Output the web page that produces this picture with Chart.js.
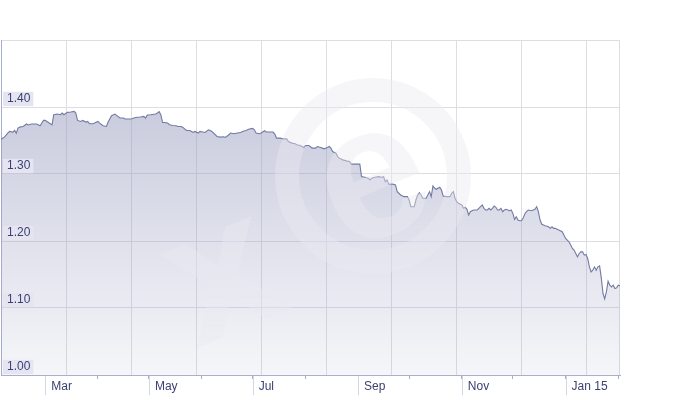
<!DOCTYPE html>
<html>
<head>
<meta charset="utf-8">
<script src="https://cdn.jsdelivr.net/npm/chart.js@4.4.1/dist/chart.umd.min.js"></script>
<style>
  html, body { margin: 0; padding: 0; background: #fff; }
  #wrap { width: 680px; height: 400px; }
</style>
</head>
<body>
<div id="wrap"><canvas id="chart"></canvas></div>
<script>
// EUR/USD, daily close
const dates = [
  '2014-02-03','2014-02-05','2014-02-07','2014-02-08','2014-02-10','2014-02-11','2014-02-12','2014-02-13','2014-02-14','2014-02-16',
  '2014-02-18','2014-02-19','2014-02-21','2014-02-24','2014-02-26','2014-02-27','2014-02-28','2014-03-01','2014-03-02','2014-03-04',
  '2014-03-05','2014-03-06','2014-03-08','2014-03-10','2014-03-11','2014-03-12','2014-03-14','2014-03-16','2014-03-18','2014-03-19',
  '2014-03-20','2014-03-22','2014-03-23','2014-03-25','2014-03-26','2014-03-27','2014-03-29','2014-03-30','2014-04-01','2014-04-02',
  '2014-04-04','2014-04-06','2014-04-07','2014-04-09','2014-04-11','2014-04-12','2014-04-14','2014-04-16','2014-04-17','2014-04-20',
  '2014-04-21','2014-04-23','2014-04-26','2014-04-28','2014-04-29','2014-04-30','2014-05-02','2014-05-05','2014-05-06','2014-05-07',
  '2014-05-08','2014-05-09','2014-05-10','2014-05-12','2014-05-13','2014-05-15','2014-05-17','2014-05-18','2014-05-20','2014-05-21',
  '2014-05-23','2014-05-25','2014-05-26','2014-05-27','2014-05-28','2014-05-30','2014-05-31','2014-06-01','2014-06-03','2014-06-05',
  '2014-06-06','2014-06-07','2014-06-09','2014-06-10','2014-06-12','2014-06-14','2014-06-15','2014-06-17','2014-06-18','2014-06-20',
  '2014-06-22','2014-06-24','2014-06-25','2014-06-27','2014-06-29','2014-07-01','2014-07-02','2014-07-03','2014-07-05','2014-07-06',
  '2014-07-08','2014-07-09','2014-07-11','2014-07-13','2014-07-14','2014-07-15','2014-07-17','2014-07-19','2014-07-21','2014-07-22',
  '2014-07-24','2014-07-26','2014-07-27','2014-07-29','2014-07-30','2014-07-31','2014-08-01','2014-08-03','2014-08-04','2014-08-05',
  '2014-08-07','2014-08-08','2014-08-10','2014-08-11','2014-08-12','2014-08-14','2014-08-15','2014-08-16','2014-08-17','2014-08-19',
  '2014-08-20','2014-08-21','2014-08-23','2014-08-25','2014-08-27','2014-08-28','2014-08-30','2014-09-01','2014-09-02','2014-09-03',
  '2014-09-05','2014-09-07','2014-09-08','2014-09-09','2014-09-11','2014-09-13','2014-09-15','2014-09-16','2014-09-17','2014-09-18',
  '2014-09-19','2014-09-21','2014-09-23','2014-09-24','2014-09-26','2014-09-28','2014-09-30','2014-10-01','2014-10-02','2014-10-04',
  '2014-10-05','2014-10-06','2014-10-07','2014-10-08','2014-10-09','2014-10-11','2014-10-12','2014-10-13','2014-10-14','2014-10-15',
  '2014-10-16','2014-10-17','2014-10-19','2014-10-20','2014-10-21','2014-10-23','2014-10-25','2014-10-26','2014-10-27','2014-10-28',
  '2014-10-29','2014-10-30','2014-11-01','2014-11-02','2014-11-03','2014-11-04','2014-11-05','2014-11-06','2014-11-07','2014-11-08',
  '2014-11-10','2014-11-11','2014-11-12','2014-11-13','2014-11-14','2014-11-15','2014-11-16','2014-11-17','2014-11-18','2014-11-19',
  '2014-11-20','2014-11-21','2014-11-22','2014-11-23','2014-11-24','2014-11-25','2014-11-26','2014-11-27','2014-11-28','2014-11-29',
  '2014-11-30','2014-12-01','2014-12-02','2014-12-03','2014-12-04','2014-12-05','2014-12-06','2014-12-07','2014-12-08','2014-12-09',
  '2014-12-10','2014-12-12','2014-12-13','2014-12-14','2014-12-15','2014-12-16','2014-12-17','2014-12-18','2014-12-20','2014-12-22',
  '2014-12-23','2014-12-24','2014-12-25','2014-12-26','2014-12-27','2014-12-28','2014-12-30','2014-12-31','2015-01-01','2015-01-02',
  '2015-01-03','2015-01-04','2015-01-05','2015-01-06','2015-01-07','2015-01-08','2015-01-09','2015-01-10','2015-01-11','2015-01-12',
  '2015-01-13','2015-01-14','2015-01-15','2015-01-16','2015-01-17','2015-01-18','2015-01-19','2015-01-20','2015-01-21','2015-01-22',
  '2015-01-23','2015-01-24','2015-01-25','2015-01-26','2015-01-27','2015-01-28','2015-01-29','2015-01-30','2015-01-31','2015-02-01',
  '2015-02-02'
];
const rates = [
  1.352,1.355,1.361,1.3635,1.3626,1.365,1.361,1.3686,1.370,1.371,
  1.3746,1.3731,1.3746,1.3746,1.372,1.376,1.380,1.380,1.3784,1.375,
  1.3735,1.3885,1.3895,1.3885,1.391,1.3885,1.392,1.3925,1.3934,1.391,
  1.380,1.3784,1.380,1.3775,1.3784,1.375,1.375,1.376,1.3784,1.376,
  1.372,1.371,1.3775,1.387,1.3895,1.3874,1.3835,1.3835,1.382,1.382,
  1.3825,1.3844,1.385,1.3859,1.3835,1.388,1.3885,1.3895,1.391,1.393,
  1.3885,1.3769,1.3769,1.376,1.3735,1.3725,1.372,1.371,1.371,1.3695,
  1.365,1.365,1.3635,1.362,1.3635,1.3611,1.3635,1.363,1.362,1.366,
  1.365,1.3635,1.3586,1.356,1.3551,1.3555,1.3545,1.3586,1.3611,1.360,
  1.3611,1.362,1.3635,1.365,1.3671,1.368,1.366,1.3611,1.360,1.3611,
  1.3645,1.3626,1.3626,1.3626,1.3596,1.3536,1.3536,1.3525,1.3525,1.3485,
  1.3461,1.3451,1.3436,1.3425,1.341,1.3395,1.3425,1.3425,1.3406,1.3386,
  1.3386,1.341,1.3395,1.3386,1.3376,1.3395,1.341,1.3386,1.3335,1.3311,
  1.326,1.3237,1.3211,1.3196,1.3186,1.3147,1.3147,1.3147,1.3147,1.2961,
  1.2952,1.2937,1.2912,1.2937,1.2952,1.2961,1.2952,1.2961,1.2886,1.2912,
  1.2847,1.2852,1.2837,1.2737,1.2687,1.2662,1.2662,1.2612,1.2512,1.2512,
  1.2612,1.2687,1.2722,1.2687,1.2638,1.2638,1.2687,1.2737,1.2662,1.2822,
  1.2787,1.2772,1.2802,1.276,1.2672,1.2662,1.2662,1.2713,1.2737,1.2638,
  1.2587,1.2563,1.2537,1.2488,1.2503,1.2473,1.2388,1.2437,1.2452,1.2463,
  1.2463,1.2488,1.2512,1.2537,1.2488,1.2463,1.2463,1.2488,1.2463,1.2488,
  1.2522,1.2503,1.2463,1.2463,1.2488,1.2437,1.2463,1.2473,1.2463,1.2452,
  1.2463,1.2413,1.2323,1.2362,1.2313,1.2302,1.2302,1.2338,1.2403,1.2437,
  1.2463,1.2452,1.2463,1.2473,1.2512,1.2437,1.2313,1.2249,1.2228,1.2213,
  1.2189,1.2213,1.2189,1.2189,1.2174,1.2163,1.2138,1.2088,1.2039,1.2013,
  1.1988,1.1939,1.1889,1.1864,1.1814,1.1763,1.1814,1.1838,1.1838,1.1789,
  1.1799,1.174,1.1614,1.1539,1.1564,1.1614,1.1564,1.1614,1.1629,1.145,
  1.1216,1.1135,1.124,1.140,1.134,1.1315,1.134,1.129,1.130,1.134,
  1.133
];
const yTicks = [1.00, 1.10, 1.20, 1.30, 1.40, 1.50];
const monthNames = ['Jan','Feb','Mar','Apr','May','Jun','Jul','Aug','Sep','Oct','Nov','Dec'];

const toDay = s => Date.parse(s + 'T00:00:00Z') / 864e5;
const points = dates.map((d, i) => ({ x: toDay(d), y: rates[i] }));
const xMin = points[0].x, xMax = points[points.length - 1].x;

// one tick at the start of every month in range
const monthTicks = [];
for (let y = 2014, m = 1; ; m++) {
  if (m > 11) { m = 0; y++; }
  const v = Date.UTC(y, m, 1) / 864e5;
  if (v > xMax) break;
  if (v >= xMin) monthTicks.push(v);
}
const monthLabel = v => {
  const d = new Date(v * 864e5);
  const m = d.getUTCMonth();
  if (m % 2 === 1) return '';
  return m === 0 ? 'Jan ' + String(d.getUTCFullYear()).slice(2) : monthNames[m];
};

const textColor = '#3b3f72';
const axisColor = '#a9add0';
const gridColor = '#dedee2';
const font = { family: "'Liberation Sans', Arial, sans-serif", size: 12 };

const gridPlugin = {
  id: 'colgrid',
  beforeDatasetsDraw(chart) {
    const { ctx, chartArea: a } = chart;
    ctx.save();
    ctx.strokeStyle = gridColor;
    ctx.lineWidth = 1;
    ctx.beginPath();
    for (let x = a.left + 65; x < a.right - 5; x += 65) {
      ctx.moveTo(Math.round(x) + 0.5, a.top);
      ctx.lineTo(Math.round(x) + 0.5, a.bottom);
    }
    ctx.moveTo(Math.round(a.right) - 0.5, a.top);
    ctx.lineTo(Math.round(a.right) - 0.5, a.bottom);
    ctx.stroke();
    ctx.restore();
  }
};

// faint "xe" logo behind the plot
const watermarkPlugin = {
  id: 'xewatermark',
  afterDatasetsDraw(chart) {
    const { ctx, chartArea: a } = chart;
    ctx.save();
    ctx.beginPath();
    ctx.rect(a.left, a.top, a.right - a.left, a.bottom - a.top);
    ctx.clip();
    ctx.fillStyle = 'rgba(233,234,241,0.42)';
    ctx.strokeStyle = 'rgba(233,234,241,0.42)';
    ctx.lineWidth = 24;
    ctx.beginPath();
    ctx.arc(373, 176, 86, 0, Math.PI * 2);
    ctx.stroke();
    ctx.translate(300, 215);
    ctx.rotate(-0.4);
    ctx.font = "bold 190px 'Liberation Sans', Arial, sans-serif";
    ctx.textAlign = 'center';
    ctx.textBaseline = 'middle';
    ctx.fillText('x', -95, 30);
    ctx.fillText('e', 80, 0);
    ctx.restore();
  }
};

const longTickPlugin = {
  id: 'longticks',
  afterDraw(chart) {
    const { ctx, chartArea: a, scales } = chart;
    ctx.save();
    ctx.strokeStyle = '#d3d5e4';
    ctx.lineWidth = 1;
    ctx.beginPath();
    monthTicks.forEach(v => {
      if (!monthLabel(v)) return;
      const x = Math.round(scales.x.getPixelForValue(v)) + 0.5;
      ctx.moveTo(x, a.bottom + 1);
      ctx.lineTo(x, a.bottom + 20);
    });
    ctx.stroke();
    ctx.restore();
  }
};

const ctx = document.getElementById('chart').getContext('2d');
new Chart(ctx, {
  type: 'line',
  data: {
    datasets: [{
      data: points,
      borderColor: '#737aa3',
      borderWidth: 1.1,
      pointRadius: 0,
      tension: 0,
      fill: 'start',
      backgroundColor: (c) => {
        const a = c.chart.chartArea;
        if (!a) return 'rgba(150,155,190,0.5)';
        const g = c.chart.ctx.createLinearGradient(0, a.top, 0, a.bottom);
        g.addColorStop(0, 'rgba(150,155,190,0.62)');
        g.addColorStop(1, 'rgba(150,155,190,0.09)');
        return g;
      }
    }]
  },
  options: {
    responsive: true,
    maintainAspectRatio: false,
    animation: false,
    layout: { padding: { top: 40, right: 60, left: 1, bottom: 0 } },
    plugins: { legend: { display: false }, tooltip: { enabled: false } },
    scales: {
      x: {
        type: 'linear',
        min: xMin,
        max: xMax,
        afterBuildTicks: s => { s.ticks = monthTicks.map(v => ({ value: v })); },
        afterFit: s => { s.height = 25; },
        ticks: {
          autoSkip: false,
          maxRotation: 0,
          align: 'start',
          labelOffset: 6,
          padding: 0,
          color: textColor,
          font,
          callback: v => monthLabel(v)
        },
        grid: { drawOnChartArea: false, drawTicks: true, tickLength: 4, tickColor: axisColor },
        border: { color: axisColor, width: 1 }
      },
      y: {
        min: 1.0,
        max: 1.5,
        afterBuildTicks: s => { s.ticks = yTicks.map(v => ({ value: v })); },
        afterFit: s => { s.width = 0; },
        ticks: {
          mirror: true,
          padding: 6,
          labelOffset: -8,
          z: 1,
          color: textColor,
          font,
          callback: v => v >= 1.5 ? '' : v.toFixed(2),
          showLabelBackdrop: true,
          backdropColor: c => (c.tick && c.tick.value >= 1.5) ? 'rgba(0,0,0,0)' : '#e5e5f1',
          backdropPadding: { left: 4, right: 3, top: 0, bottom: 0 }
        },
        grid: { color: gridColor, drawTicks: false },
        border: { color: axisColor, width: 1 }
      }
    }
  },
  plugins: [gridPlugin, watermarkPlugin, longTickPlugin]
});
</script>
</body>
</html>
